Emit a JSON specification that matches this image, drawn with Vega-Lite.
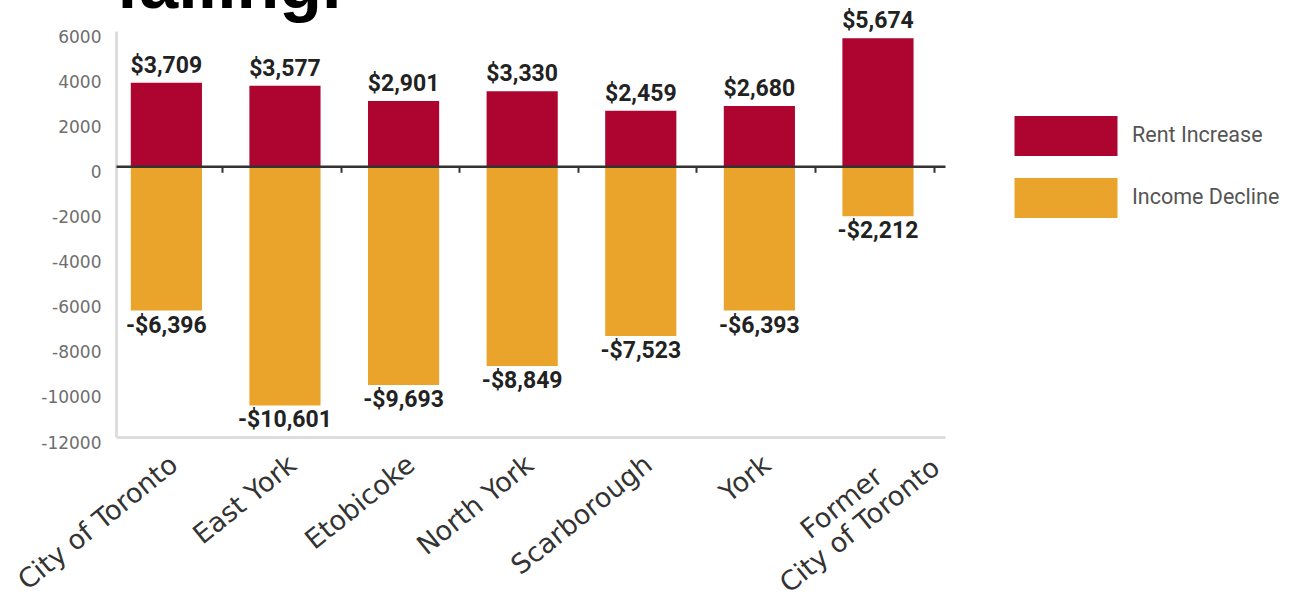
{
  "$schema": "https://vega.github.io/schema/vega-lite/v6.json",
  "width": 829,
  "height": 406,
  "autosize": {"type": "none"},
  "padding": {"left": 116, "top": 31, "right": 348, "bottom": 167},
  "background": "white",
  "title": {
    "text": "falling.",
    "anchor": "start",
    "frame": "group",
    "orient": "top",
    "font": "Liberation Sans",
    "fontWeight": "bold",
    "fontSize": 70,
    "color": "#000000",
    "baseline": "alphabetic",
    "offset": -68
  },
  "config": {
    "view": {"stroke": null},
    "axis": {"grid": false}
  },
  "data": {
    "values": [
      {"district": "City of Toronto", "type": "Rent Increase", "value": 3709, "label": "$3,709"},
      {"district": "East York", "type": "Rent Increase", "value": 3577, "label": "$3,577"},
      {"district": "Etobicoke", "type": "Rent Increase", "value": 2901, "label": "$2,901"},
      {"district": "North York", "type": "Rent Increase", "value": 3330, "label": "$3,330"},
      {"district": "Scarborough", "type": "Rent Increase", "value": 2459, "label": "$2,459"},
      {"district": "York", "type": "Rent Increase", "value": 2680, "label": "$2,680"},
      {"district": "Former City of Toronto", "type": "Rent Increase", "value": 5674, "label": "$5,674"},
      {"district": "City of Toronto", "type": "Income Decline", "value": -6396, "label": "-$6,396"},
      {"district": "East York", "type": "Income Decline", "value": -10601, "label": "-$10,601"},
      {"district": "Etobicoke", "type": "Income Decline", "value": -9693, "label": "-$9,693"},
      {"district": "North York", "type": "Income Decline", "value": -8849, "label": "-$8,849"},
      {"district": "Scarborough", "type": "Income Decline", "value": -7523, "label": "-$7,523"},
      {"district": "York", "type": "Income Decline", "value": -6393, "label": "-$6,393"},
      {"district": "Former City of Toronto", "type": "Income Decline", "value": -2212, "label": "-$2,212"}
    ]
  },
  "encoding": {
    "x": {
      "field": "district",
      "type": "nominal",
      "sort": null,
      "scale": {"paddingInner": 0.4, "paddingOuter": 0.195, "align": 0.32}
    },
    "y": {
      "field": "value",
      "type": "quantitative",
      "scale": {"domain": [-12000, 6000], "nice": false}
    }
  },
  "layer": [
    {
      "mark": {"type": "bar"},
      "encoding": {
        "x": {
          "field": "district",
          "type": "nominal",
          "sort": null,
          "axis": {
            "orient": "bottom",
            "title": null,
            "ticks": false,
            "domainColor": "#dddddd",
            "domainWidth": 3,
            "labelAngle": -39,
            "labelFont": "DejaVu Sans",
            "labelFontSize": 27,
            "labelColor": "#333333",
            "labelLimit": 0,
            "labelAlign": {"condition": {"test": "datum.value == 'Former City of Toronto'", "value": "center"}, "value": "right"},
            "labelOffset": {"condition": {"test": "datum.value == 'Former City of Toronto'", "value": -44}, "value": 0},
            "labelPadding": {"condition": {"test": "datum.value == 'Former City of Toronto'", "value": 56}, "value": 14},
            "labelExpr": "datum.value == 'Former City of Toronto' ? ['Former', 'City of Toronto'] : datum.label"
          }
        },
        "y": {
          "field": "value",
          "type": "quantitative",
          "axis": {
            "title": null,
            "values": [-12000, -10000, -8000, -6000, -4000, -2000, 0, 2000, 4000, 6000],
            "ticks": false,
            "domainColor": "#dddddd",
            "domainWidth": 3,
            "labelFont": "DejaVu Sans",
            "labelFontSize": 17,
            "labelColor": "#6e6e6e",
            "labelPadding": 15,
            "labelOffset": 6,
            "labelExpr": "datum.value + ''"
          }
        },
        "color": {
          "field": "type",
          "type": "nominal",
          "scale": {"domain": ["Rent Increase", "Income Decline"], "range": ["#ae0430", "#eba42b"]},
          "legend": {
            "orient": "none",
            "legendX": 930,
            "legendY": 85,
            "title": null,
            "padding": 0,
            "symbolType": "M-2.575,-1H2.575V1H-2.575Z",
            "symbolSize": 1600,
            "symbolStrokeWidth": 0,
            "symbolOpacity": 1,
            "rowPadding": 22,
            "labelOffset": 46,
            "labelFont": "Roboto",
            "labelFontSize": 21.5,
            "labelColor": "#555555"
          }
        }
      }
    },
    {
      "transform": [{"filter": "datum.type == 'Rent Increase'"}],
      "mark": {"type": "text", "baseline": "bottom", "dy": -5, "font": "Roboto", "fontWeight": "bold", "fontSize": 23, "color": "#222222"},
      "encoding": {
        "x": {
          "field": "district",
          "type": "nominal",
          "sort": null,
          "axis": {
            "orient": "bottom",
            "offset": -270.7,
            "title": null,
            "labels": false,
            "domainColor": "#333333",
            "domainWidth": 2.5,
            "tickColor": "#333333",
            "tickWidth": 2,
            "tickSize": 6,
            "bandPosition": 1,
            "tickOffset": 20,
            "zindex": 2
          }
        },
        "text": {"field": "label"}
      }
    },
    {
      "transform": [{"filter": "datum.type == 'Income Decline'"}],
      "mark": {"type": "text", "baseline": "top", "dy": 4, "font": "Roboto", "fontWeight": "bold", "fontSize": 23, "color": "#222222"},
      "encoding": {
        "x": {"field": "district", "type": "nominal", "sort": null, "axis": null},
        "text": {"field": "label"}
      }
    }
  ],
  "resolve": {"axis": {"x": "independent"}}
}
